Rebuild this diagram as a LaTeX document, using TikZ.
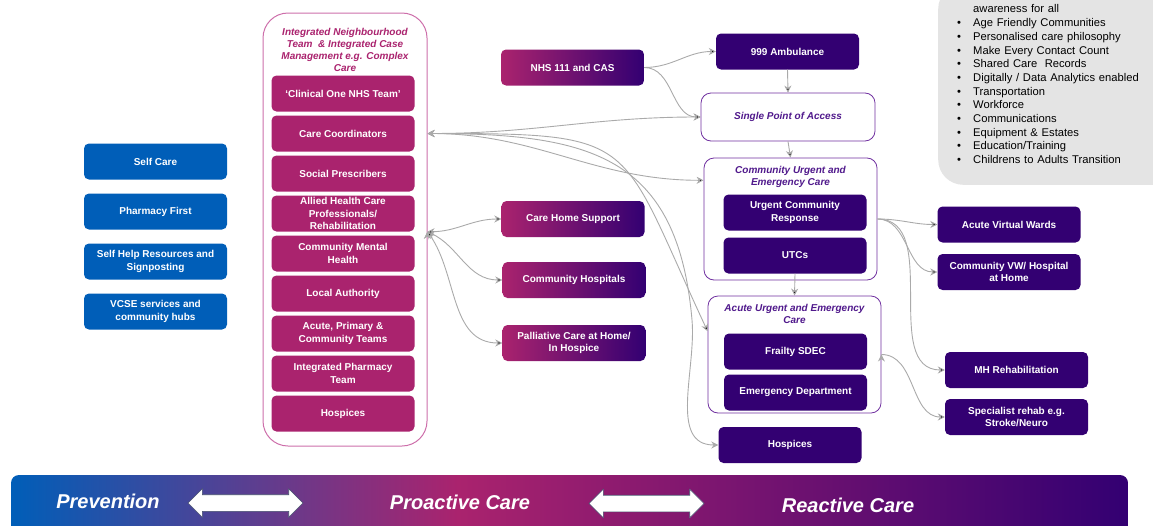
\documentclass[tikz,border=0pt]{standalone}
\usepackage{fontspec}
\setmainfont{Liberation Sans}
\usepackage{xcolor}
\usetikzlibrary{shapes.arrows,arrows.meta}

\definecolor{nhsblue}{RGB}{0,94,184}
\definecolor{nhspink}{RGB}{170,35,110}
\definecolor{nhspurple}{RGB}{51,0,114}
\definecolor{framepink}{RGB}{205,110,170}
\definecolor{framepurple}{RGB}{112,48,160}
\definecolor{titlepurple}{RGB}{80,25,140}
\definecolor{linkgrey}{RGB}{170,170,170}
\definecolor{notegrey}{RGB}{228,228,228}
\definecolor{arrowedge}{RGB}{70,80,110}
\pgfdeclarehorizontalshading{barshade}{100bp}{color(0bp)=(nhsblue); color(25bp)=(nhsblue); color(45bp)=(nhspink); color(75bp)=(nhspurple); color(100bp)=(nhspurple)}
\newcommand{\bitem}{\makebox[16pt][l]{\textbullet}}

\begin{document}
\begin{tikzpicture}[x=1pt,y=-1pt,>={Stealth[length=7pt,width=7pt]},node distance=40pt,
    svc/.style={rounded corners=5pt,minimum width=143pt,minimum height=36pt,inner sep=1pt,align=center,text=white,font=\fontsize{10}{12.3}\selectfont\bfseries},
    blue svc/.style={svc,fill=nhsblue},
    pink svc/.style={svc,fill=nhspink},
    fade svc/.style={svc,left color=nhspink,right color=nhspurple},
    dark svc/.style={svc,fill=nhspurple},
    group box/.style={draw=framepurple,line width=0.8pt,rounded corners=10pt,fill=white},
    group title/.style={text=titlepurple,align=center,inner sep=0pt,font=\fontsize{10}{12}\selectfont\bfseries\itshape},
    link/.style={draw=linkgrey,line width=0.9pt},
    bar text/.style={text=white,font=\fontsize{20}{22}\selectfont\bfseries\itshape},
    dbl/.style={double arrow,fill=white,draw=arrowedge,line width=0.6pt,minimum height=115pt,inner sep=8pt,double arrow head extend=6pt}]

    \useasboundingbox (0,0) rectangle (1153,525);

    \node[blue svc] (self) at (155.5,161.5) {Self Care};
    \node[blue svc] (pharm) [node distance=50pt,below of=self] {Pharmacy First};
    \node[blue svc] (selfhelp) [node distance=50pt,below of=pharm] {Self Help Resources and\\Signposting};
    \node[blue svc] (vcse) [node distance=50pt,below of=selfhelp] {VCSE services and\\community hubs};

    \node[draw=framepink,line width=1pt,rounded corners=25pt,minimum width=164pt,minimum height=433pt] (int) at (345,229.5) {};
    \node[group title,text=nhspink] (inttitle) at (345,50) {Integrated Neighbourhood\\Team \ \& Integrated Case\\Management e.g. Complex\\Care};
    \node[pink svc] (c1) at (343,93.5) {‘Clinical One NHS Team’};
    \node[pink svc] (cc) [below of=c1] {Care Coordinators};
    \node[pink svc] (sp) [below of=cc] {Social Prescribers};
    \node[pink svc,inner ysep=0pt] (ahp) [below of=sp] {Allied Health Care\\Professionals/\\Rehabilitation};
    \node[pink svc] (cmh) [below of=ahp] {Community Mental\\Health};
    \node[pink svc] (la) [below of=cmh] {Local Authority};
    \node[pink svc] (apc) [below of=la] {Acute, Primary \&\\Community Teams};
    \node[pink svc] (ipt) [below of=apc] {Integrated Pharmacy\\Team};
    \node[pink svc] (hosp) [below of=ipt] {Hospices};

    \node[fade svc] (nhs111) at (572.5,67.5) {NHS 111 and CAS};
    \node[fade svc] (chs) at (573,219) {Care Home Support};
    \node[fade svc] (chosp) at (574,280) {Community Hospitals};
    \node[fade svc] (pall) at (574,343) {Palliative Care at Home/\\In Hospice};

    \node[dark svc] (amb) at (787.5,51.5) {999 Ambulance};
    \node[group box,minimum width=174pt,minimum height=48pt] (spa) at (788,117) {};
    \node[group title] (spatitle) at (spa) {Single Point of Access};

    \node[group box,minimum width=173pt,minimum height=122pt] (cuec) at (790.5,219) {};
    \node[group title,anchor=north,yshift=-8pt] (cuectitle) at (cuec.north) {Community Urgent and\\Emergency Care};
    \node[dark svc] (ucr) at (795,212.5) {Urgent Community\\Response};
    \node[dark svc] (utc) at (795,255.5) {UTCs};

    \node[group box,minimum width=173pt,minimum height=117pt] (auec) at (794.5,354.5) {};
    \node[group title,anchor=north,yshift=-8pt] (auectitle) at (auec.north) {Acute Urgent and Emergency\\Care};
    \node[dark svc] (sdec) at (795.5,351.5) {Frailty SDEC};
    \node[dark svc] (ed) at (795.5,392.5) {Emergency Department};

    \node[dark svc] (hosp2) at (790,445) {Hospices};
    \node[dark svc] (avw) at (1009,224.5) {Acute Virtual Wards};
    \node[dark svc] (cvw) at (1009,272) {Community VW/ Hospital\\at Home};
    \node[dark svc] (mh) at (1016.5,370) {MH Rehabilitation};
    \node[dark svc] (spec) at (1016.5,417) {Specialist rehab e.g.\\Stroke/Neuro};

    \node[anchor=south west,fill=notegrey,rounded corners=25pt,text width=230pt,inner xsep=19pt,inner ysep=21pt,align=left,font=\fontsize{11.2}{13.7}\selectfont] (note) at (938,185)
        {\hspace*{16pt}awareness for all\\
         \bitem Age Friendly Communities\\
         \bitem Personalised care philosophy\\
         \bitem Make Every Contact Count\\
         \bitem Shared Care \ Records\\
         \bitem Digitally / Data Analytics enabled\\
         \bitem Transportation\\
         \bitem Workforce\\
         \bitem Communications\\
         \bitem Equipment \& Estates\\
         \bitem Education/Training\\
         \bitem Childrens to Adults Transition};

    \coordinate (ccport) at (int.east |- cc.east);
    \coordinate (ahpport) at (int.east |- ahp.south);
    \coordinate (trunk) at (692,320);

    \path[link,->]
        (nhs111.east) edge[out=0,in=180] (amb.west)
        (nhs111.east) edge[out=0,in=180] (spa.west)
        (amb.south) edge (spa.north)
        (spa.south) edge (cuec.north)
        (utc.south) edge (auec.north)
        (cuec.east) edge[out=0,in=180] (avw.west)
        (cuec.east) edge[out=0,in=180] (cvw.west)
        (cuec.east) edge[out=0,in=180] (mh.west)
        (auec.east) edge[out=0,in=180] (spec.west)
        ;
    \path[link,<->]
        (ccport) edge[out=0,in=180] (spa.west)
        (ccport) edge[out=0,in=180] (cuec.156)
        (ccport) edge[out=0,in=115,looseness=1.6] (auec.165)
        (ahpport) edge[out=0,in=180] (chs.west)
        (ahpport) edge[out=-25,in=180] (chosp.west)
        (ahpport) edge[out=-55,in=180] (pall.west)
        ;
    \draw[link,<->] (ccport) to[out=0,in=95,looseness=1.3] (trunk) to[out=-85,in=180] (hosp2.west);

    \path[shading=barshade,rounded corners=8pt] (11,475) rectangle (1128,560);
    \node[bar text] (prev) at (108,501) {Prevention};
    \node[bar text] (proact) at (460,502) {Proactive Care};
    \node[bar text] (react) at (848,505) {Reactive Care};
    \node[dbl] (dbl1) at (245.5,503) {};
    \node[dbl] (dbl2) at (646.5,503.5) {};
\end{tikzpicture}
\end{document}
